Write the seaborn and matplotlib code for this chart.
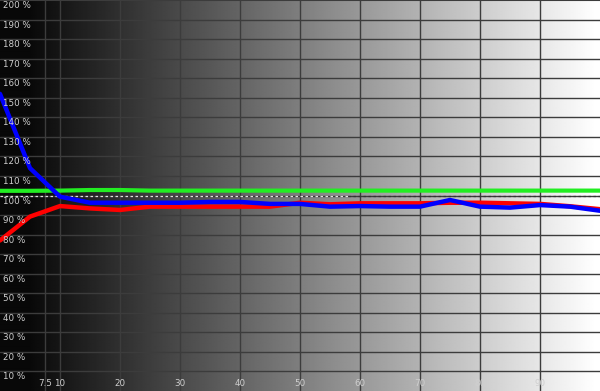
import numpy as np
import pandas as pd
import matplotlib
matplotlib.use("Agg")
import matplotlib.pyplot as plt
import matplotlib.transforms as mtransforms
import seaborn as sns

# ---- data ----
stimulus = [0, 5, 10, 15, 20, 25, 30, 35, 40, 45, 50, 55, 60, 65, 70, 75, 80, 85, 90, 95, 100]
red_vals = [77, 89.2, 94.6, 93.4, 92.6, 94.3, 94.3, 94.3, 94.3, 94.3, 96.3, 95.5, 96, 96, 96, 96.3, 96.3, 96, 95.7, 94.5, 93]
green_vals = [102.4, 102.4, 102.5, 102.8, 102.8, 102.5, 102.5, 102.5, 102.5, 102.5, 102.5, 102.5, 102.5, 102.5, 102.5, 102.5, 102.5, 102.5, 102.5, 102.5, 102.5]
blue_vals = [152, 114, 99.4, 96.3, 96.3, 96.3, 96.3, 96.7, 96.7, 95.7, 95.7, 94.3, 94.6, 94.3, 94.3, 97.7, 94.3, 93.8, 95.1, 94.3, 92.2]
x_ticks = [7.5, 10, 20, 30, 40, 50, 60, 70, 80, 90]
x_tick_labels = ["7.5", "10", "20", "30", "40", "50", "60", "70", "80", "90"]
y_ticks = list(range(10, 201, 10))
y_tick_labels = [f"{v} %" for v in y_ticks]

sns.set_style("dark")
fig = plt.figure(figsize=(6.0, 3.91), dpi=100)
ax = fig.add_axes([0, 0, 1, 1])

# gray ramp background
xs = np.linspace(0, 100, 600)
ramp = np.clip((xs - 5) / 95, 0, 1) * 0.97 + 0.035
ramp = np.clip(ramp, 0, 1)
img = np.tile(ramp, (10, 1))
ax.imshow(img, cmap="gray", vmin=0, vmax=1, extent=[0, 100, 0, 200],
          aspect="auto", zorder=0, interpolation="bilinear")

ax.set_xlim(0, 100)
ax.set_ylim(0, 200)

# grid
for xv in x_ticks:
    ax.axvline(xv, color="#3c3c3c", lw=1.0, zorder=1)
for yv in y_ticks[:-1]:
    ax.axhline(yv, color="#3c3c3c", lw=1.0, zorder=1)
ax.axhline(200, color="#3c3c3c", lw=1.5, zorder=1)

# 100% reference dashed line
ax.hlines(100, 0, 58, colors="#e0e0e0", linestyles=(0, (2, 2)), lw=0.9, zorder=2)
ax.hlines(100, 58, 100, colors="#333333", linestyles=(0, (2, 2)), lw=0.9, zorder=2)

df = pd.DataFrame({
    "stimulus": stimulus * 3,
    "value": green_vals + red_vals + blue_vals,
    "channel": ["G"] * len(stimulus) + ["R"] * len(stimulus) + ["B"] * len(stimulus),
})
palette = {"G": "#22ee22", "R": "#ff0000", "B": "#0000ff"}
for ch, lw in [("G", 3.0), ("R", 3.2), ("B", 3.2)]:
    sub = df[df["channel"] == ch]
    sns.lineplot(data=sub, x="stimulus", y="value", color=palette[ch], lw=lw,
                 ax=ax, zorder=3, legend=False)

ax.set_xticks([])
ax.set_yticks([])
ax.set_xlabel("")
ax.set_ylabel("")
for s in ax.spines.values():
    s.set_visible(False)

label_color = "#cfcfcf"
ytr = mtransforms.offset_copy(ax.transData, fig=fig, x=3, y=-5.5, units="dots")
for yv, lab in zip(y_ticks, y_tick_labels):
    ax.text(0, yv, lab, transform=ytr, ha="left", va="center", fontsize=6.3,
            color=label_color, zorder=4)
xtr = mtransforms.offset_copy(ax.transData, fig=fig, x=0, y=7, units="dots")
for xv, lab in zip(x_ticks, x_tick_labels):
    ax.text(xv, 0, lab, transform=xtr, ha="center", va="center", fontsize=6.3,
            color=label_color, zorder=4)

fig.savefig("out.png", dpi=100)
